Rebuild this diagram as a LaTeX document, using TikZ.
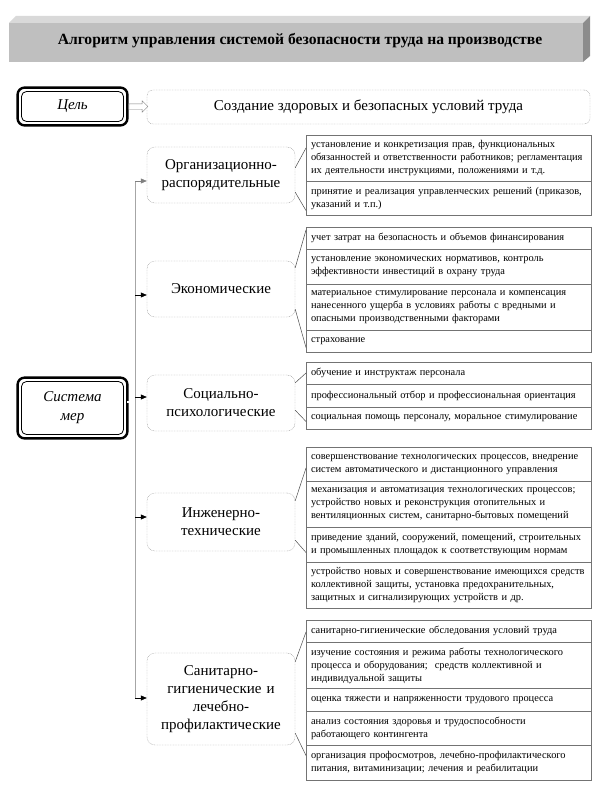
\documentclass[tikz,border=0pt]{standalone}
\usepackage{fontspec}
\setmainfont{Liberation Serif}
\usepackage{tikz}
\usetikzlibrary{shapes,arrows,positioning,calc,arrows.meta}

\tikzset{
  cat/.style={draw=gray!75, dash pattern=on 0.8pt off 0.8pt, rounded corners=8pt, minimum width=148pt, minimum height=56pt, text width=144pt, inner sep=2pt, align=center, font=\fontsize{15}{18}\selectfont},
  row/.style={draw=black!55, line width=0.6pt, text width=275pt, inner xsep=5pt, inner ysep=1pt, outer sep=0pt, align=left, font=\fontsize{10.4}{13}\selectfont},
  ra/.style={row, minimum height=22.5pt},
  rb/.style={row, minimum height=34.5pt},
  rc/.style={row, minimum height=46pt},
  brace/.style={draw=black!70, line width=0.5pt},
  feed/.style={-{Triangle[length=6pt,width=5pt]}, line width=0.6pt},
  framebox/.style={draw, line width=0.8pt, rounded corners=5pt, minimum width=102pt, align=center, font=\fontsize{15}{19}\selectfont\itshape},
}
\newcommand{\jline}[1]{\makebox[275pt][s]{#1}}

\begin{document}
\begin{tikzpicture}[x=1pt, y=-1pt]
    \useasboundingbox (0,0) rectangle (600,792);

    % Title
    \fill[black!15] (9,23) -- (16,16) -- (590,16) -- (583,23) -- cycle;
    \fill[black!45] (583,23) -- (590,16) -- (590,56) -- (583,62) -- cycle;
    \fill[black!25] (9,23) rectangle (583,62);
    \node[font=\fontsize{15.6}{18}\selectfont\bfseries] (title) at (300,41) {Алгоритм управления системой безопасности труда на производстве};

    % Goal
    \node[framebox, minimum height=30pt] (cel) at (72.5,106.5) {Цель};
    \draw[line width=2.4pt, rounded corners=7pt] ([shift={(-3.5pt,3.5pt)}]cel.north west) rectangle ([shift={(3.5pt,-3.5pt)}]cel.south east);
    \node[draw=gray!75, dash pattern=on 0.8pt off 0.8pt, rounded corners=6pt, minimum width=443pt, minimum height=34pt, font=\fontsize{15}{18}\selectfont] (goal) at (368.5,107) {Создание здоровых и безопасных условий труда};
    \node[single arrow, draw=gray, fill=white, minimum height=19pt, inner sep=2.5pt, single arrow head extend=3pt] (hollow) at (137,106.5) {};

    % System of measures
    \node[framebox, minimum height=53pt] (sys) at (72.5,408) {Система\\мер};
    \draw[line width=2.4pt, rounded corners=7pt] ([shift={(-3.5pt,3.5pt)}]sys.north west) rectangle ([shift={(3.5pt,-3.5pt)}]sys.south east);

    % Categories
    \node[cat] (c1) at (221,175) {Организационно-\\распорядительные};
    \node[cat] (c2) at (221,289) {Экономические};
    \node[cat] (c3) at (221,403) {Социально-\\психологические};
    \node[cat, minimum height=58pt] (c4) at (221,522) {Инженерно-\\технические};
    \node[cat, minimum height=92pt] (c5) at (221,699) {Санитарно-\\гигиенические и\\лечебно-\\профилактические};

    % Trunk
    \coordinate (t1) at (135,181);
    \coordinate (t2) at (135,295);
    \coordinate (t3) at (135,397);
    \coordinate (t4) at (135,517);
    \coordinate (t5) at (135,698);
    \draw[gray!70, line width=0.8pt] (t1) -- (t5);
    \draw[double, line width=0.6pt, double distance=1.2pt] ([xshift=3.5pt, yshift=6pt]sys.east) -- (t1 |- 0,402);
    \draw[feed, gray] (t1) -- (t1 -| c1.west);
    \draw[feed] (t2) -- (t2 -| c2.west);
    \draw[feed] (t3) -- (t3 -| c3.west);
    \draw[feed] (t4) -- (t4 -| c4.west);
    \draw[feed] (t5) -- (t5 -| c5.west);

    % Group 1
    \node[rc, anchor=north west] (g1a) at (306,135) {установление и конкретизация прав, функциональных\\обязанностей и ответственности работников; регламентация\\их деятельности инструкциями, положениями и т.д.};
    \node[rb, below=0pt of g1a] (g1b) {принятие и реализация управленческих решений (приказов,\\указаний и т.п.)};

    % Group 2
    \node[ra, anchor=north west] (g2a) at (306,227) {учет затрат на безопасность и объемов финансирования};
    \node[rb, below=0pt of g2a] (g2b) {установление экономических нормативов, контроль\\эффективности инвестиций в охрану труда};
    \node[rc, below=0pt of g2b] (g2c) {материальное стимулирование персонала и компенсация\\нанесенного ущерба в условиях работы с вредными и\\опасными производственными факторами};
    \node[ra, below=0pt of g2c] (g2d) {страхование};

    % Group 3
    \node[ra, anchor=north west] (g3a) at (306,362) {обучение и инструктаж персонала};
    \node[ra, below=0pt of g3a] (g3b) {профессиональный отбор и профессиональная ориентация};
    \node[ra, below=0pt of g3b] (g3c) {социальная помощь персоналу, моральное стимулирование};

    % Group 4
    \node[rb, anchor=north west] (g4a) at (306,447) {\jline{совершенствование технологических процессов, внедрение}\\систем автоматического и дистанционного управления};
    \node[rc, below=0pt of g4a] (g4b) {\jline{механизация и автоматизация технологических процессов;}\\\jline{устройство новых и реконструкция отопительных и}\\вентиляционных систем, санитарно-бытовых помещений};
    \node[rb, below=0pt of g4b] (g4c) {\jline{приведение зданий, сооружений, помещений, строительных}\\и промышленных площадок к соответствующим нормам};
    \node[rc, below=0pt of g4c] (g4d) {\jline{устройство новых и совершенствование имеющихся средств}\\\jline{коллективной защиты, установка предохранительных,}\\защитных и сигнализирующих устройств и др.};

    % Group 5
    \node[ra, anchor=north west] (g5a) at (306,620) {санитарно-гигиенические обследования условий труда};
    \node[rc, below=0pt of g5a] (g5b) {изучение состояния и режима работы технологического\\процесса и оборудования;\ \ средств коллективной и\\индивидуальной защиты};
    \node[ra, below=0pt of g5b] (g5c) {оценка тяжести и напряженности трудового процесса};
    \node[rb, below=0pt of g5c] (g5d) {анализ состояния здоровья и трудоспособности\\работающего контингента};
    \node[rb, below=0pt of g5d] (g5e) {организация профосмотров, лечебно-профилактического\\питания, витаминизации; лечения и реабилитации};

    % Brackets
    \draw[brace] ([yshift=-21pt]c1.north east) -- ([yshift=-13pt]g1a.north west);
    \draw[brace] ([yshift=11pt]c1.south east) -- ([yshift=5pt]g1b.south west);
    \draw[brace] ([yshift=-7pt]c2.north east) -- ([yshift=-3pt]g2a.north west);
    \draw[brace] ([yshift=8pt]c2.south east) -- ([yshift=5pt]g2d.south west);
    \draw[brace] ([yshift=-8pt]c3.north east) -- ([yshift=-11pt]g3a.north west);
    \draw[brace] ([yshift=21pt]c3.south east) -- ([yshift=8pt]g3c.south west);
    \draw[brace] ([yshift=-8pt]c4.north east) -- ([yshift=-21pt]g4a.north west);
    \draw[brace] ([yshift=11pt]c4.south east) -- ([yshift=-25pt]g4c.north west);
    \draw[brace] ([yshift=-9pt]c5.north east) -- ([yshift=-12pt]g5a.north west);
    \draw[brace] ([yshift=12pt]c5.south east) -- ([yshift=-10pt]g5e.north west);
\end{tikzpicture}
\end{document}
